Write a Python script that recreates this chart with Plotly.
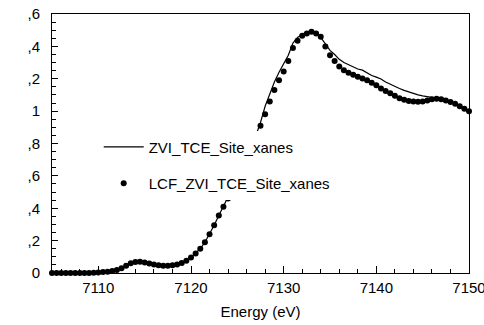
import plotly.graph_objects as go

energy = [
    7105.0, 7105.5, 7106.0, 7106.5, 7107.0, 7107.5, 7108.0, 7108.5, 7109.0, 7109.5,
    7110.0, 7110.5, 7111.0, 7111.5, 7112.0, 7112.5, 7113.0, 7113.5, 7114.0, 7114.5,
    7115.0, 7115.5, 7116.0, 7116.5, 7117.0, 7117.5, 7118.0, 7118.5, 7119.0, 7119.5,
    7120.0, 7120.5, 7121.0, 7121.5, 7122.0, 7122.5, 7123.0, 7123.5, 7124.0, 7124.5,
    7125.0, 7125.5, 7126.0, 7126.5, 7127.0, 7127.5, 7128.0, 7128.5, 7129.0, 7129.5,
    7130.0, 7130.5, 7131.0, 7131.5, 7132.0, 7132.5, 7133.0, 7133.5, 7134.0, 7134.5,
    7135.0, 7135.5, 7136.0, 7136.5, 7137.0, 7137.5, 7138.0, 7138.5, 7139.0, 7139.5,
    7140.0, 7140.5, 7141.0, 7141.5, 7142.0, 7142.5, 7143.0, 7143.5, 7144.0, 7144.5,
    7145.0, 7145.5, 7146.0, 7146.5, 7147.0, 7147.5, 7148.0, 7148.5, 7149.0, 7149.5,
    7150.0,
]

zvi_xanes = [
    0.0, 0.0, 0.0, 0.0, 0.0, 0.0, 0.0, 0.0, 0.0, 0.001,
    0.003, 0.006, 0.008, 0.012, 0.018, 0.030, 0.045, 0.060, 0.068, 0.070,
    0.065, 0.058, 0.052, 0.048, 0.045, 0.045, 0.048, 0.053, 0.062, 0.075,
    0.095, 0.120, 0.150, 0.190, 0.240, 0.295, 0.355, 0.410, 0.470, 0.535,
    0.600, 0.670, 0.730, 0.790, 0.850, 0.930, 1.030, 1.110, 1.180, 1.240,
    1.290, 1.345, 1.420, 1.455, 1.475, 1.488, 1.490, 1.480, 1.455, 1.415,
    1.375, 1.350, 1.320, 1.300, 1.285, 1.270, 1.260, 1.253, 1.235, 1.220,
    1.210, 1.198, 1.180, 1.165, 1.153, 1.140, 1.128, 1.117, 1.108, 1.100,
    1.094, 1.090, 1.086, 1.082, 1.078, 1.070, 1.058, 1.043, 1.027, 1.012,
    0.997,
]

lcf_xanes = [
    0.0, 0.0, 0.0, 0.0, 0.0, 0.0, 0.0, 0.0, 0.0, 0.001,
    0.003, 0.006, 0.008, 0.012, 0.018, 0.030, 0.045, 0.060, 0.068, 0.070,
    0.065, 0.058, 0.052, 0.048, 0.045, 0.045, 0.048, 0.053, 0.062, 0.075,
    0.095, 0.120, 0.150, 0.190, 0.240, 0.295, 0.355, 0.410, 0.460, 0.520,
    0.580, 0.650, 0.720, 0.790, 0.850, 0.910, 0.980, 1.060, 1.130, 1.190,
    1.245, 1.310, 1.390, 1.435, 1.465, 1.480, 1.490, 1.480, 1.460, 1.400,
    1.345, 1.310, 1.275, 1.253, 1.237, 1.225, 1.212, 1.202, 1.190, 1.175,
    1.160, 1.140, 1.125, 1.110, 1.095, 1.080, 1.070, 1.063, 1.060, 1.058,
    1.060, 1.066, 1.073, 1.076, 1.073, 1.066, 1.056, 1.045, 1.030, 1.015,
    1.000,
]

x_ticks = [7110, 7120, 7130, 7140, 7150]
y_ticks = [0, 0.2, 0.4, 0.6, 0.8, 1.0, 1.2, 1.4, 1.6]
y_ticktext = ["0", ",2", ",4", ",6", ",8", "1", ",2", ",4", ",6"]

font_family = "Liberation Sans, Arial, sans-serif"

fig = go.Figure()
fig.add_trace(go.Scatter(
    x=energy, y=zvi_xanes, mode="lines", name="ZVI_TCE_Site_xanes",
    line=dict(color="black", width=1.2), legendgroup="a", cliponaxis=False,
))
fig.add_trace(go.Scatter(
    x=energy, y=lcf_xanes, mode="markers", name="LCF_ZVI_TCE_Site_xanes",
    marker=dict(color="black", size=6, symbol="circle"), legendgroup="b",
    cliponaxis=False,
))

fig.update_layout(
    width=484, height=325,
    margin=dict(l=52, r=15, t=14, b=52, autoexpand=False),
    paper_bgcolor="white", plot_bgcolor="white",
    font=dict(family=font_family, size=15, color="black"),
    showlegend=True,
    legend=dict(
        x=0.112, y=0.55, xanchor="left", yanchor="top",
        bgcolor="white", borderwidth=0,
        font=dict(size=15), traceorder="grouped", tracegroupgap=14,
        itemwidth=40,
    ),
    xaxis=dict(
        range=[7105, 7150], tickvals=x_ticks, ticks="inside", ticklen=7,
        tickcolor="black", showline=True, linecolor="black", linewidth=1,
        mirror=True, showgrid=False, zeroline=False, automargin=False,
        ticklabeloverflow="allow", ticklabelstandoff=1,
        minor=dict(dtick=2, ticks="inside", ticklen=4, tickcolor="black", showgrid=False),
        title=dict(text="Energy (eV)", standoff=11, font=dict(size=15)),
    ),
    yaxis=dict(
        range=[0, 1.6], tickvals=y_ticks, ticktext=y_ticktext, ticks="inside",
        ticklen=6, tickcolor="black", showline=True, linecolor="black",
        linewidth=1, mirror=True, showgrid=False, zeroline=False, automargin=False,
        ticklabelstandoff=8,
        minor=dict(dtick=0.05, ticks="inside", ticklen=4, tickcolor="black", showgrid=False),
    ),
)

fig.write_html(
    "out.html",
    config={"displayModeBar": False},
    post_script="document.body.style.margin='0';document.body.style.overflow='hidden';",
)
